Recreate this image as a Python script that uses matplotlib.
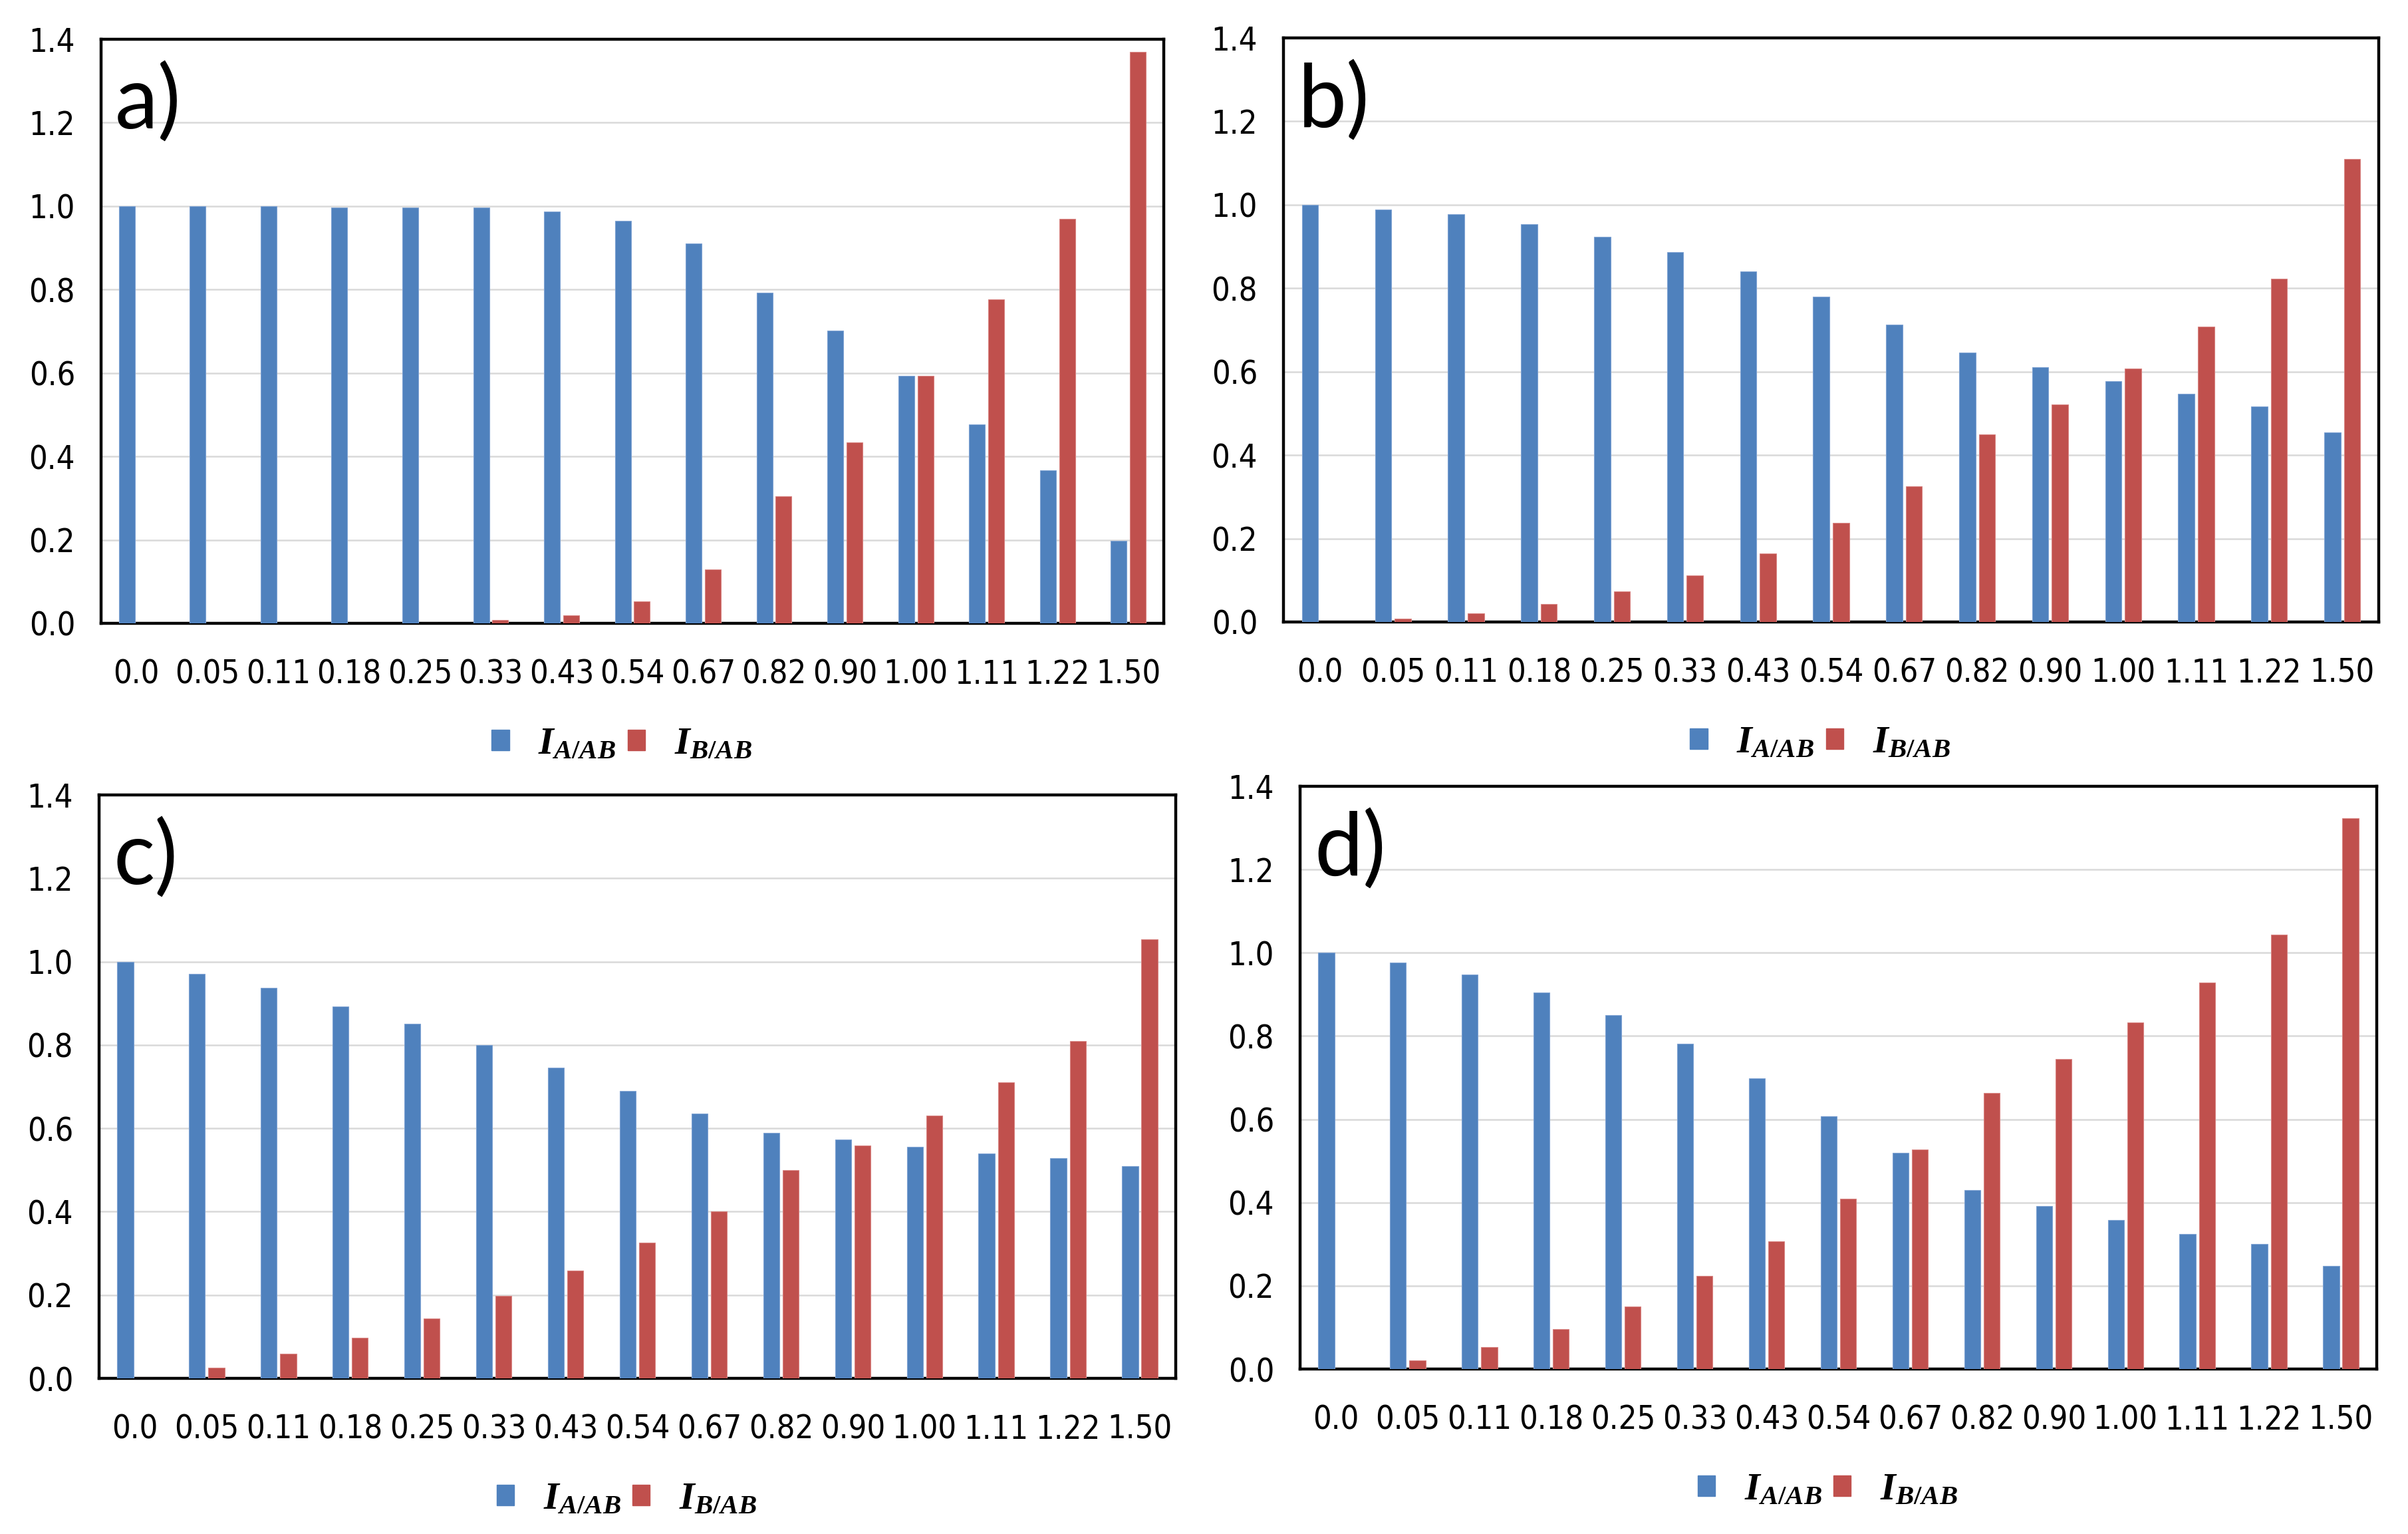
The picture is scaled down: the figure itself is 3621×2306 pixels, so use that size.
import numpy as np
import matplotlib
matplotlib.use("Agg")
import matplotlib.pyplot as plt
from matplotlib.patches import Patch
from matplotlib.ticker import FormatStrFormatter, MultipleLocator

# ------------------------------------------------------------
# Datos
# ------------------------------------------------------------
etiquetas = ["0.0", "0.05", "0.11", "0.18", "0.25", "0.33", "0.43", "0.54",
             "0.67", "0.82", "0.90", "1.00", "1.11", "1.22", "1.50"]

a_IA = [1.00, 1.00, 1.00, 0.997, 0.997, 0.997, 0.987, 0.965, 0.911, 0.793,
        0.701, 0.593, 0.477, 0.367, 0.197]
a_IB = [0.0, 0.0, 0.0, 0.0, 0.0, 0.008, 0.019, 0.053, 0.129, 0.304,
        0.434, 0.593, 0.776, 0.970, 1.369]

b_IA = [1.00, 0.988, 0.977, 0.954, 0.924, 0.886, 0.840, 0.780, 0.712, 0.645,
        0.611, 0.577, 0.547, 0.517, 0.454]
b_IB = [0.0, 0.008, 0.021, 0.043, 0.073, 0.111, 0.165, 0.238, 0.326, 0.450,
        0.521, 0.607, 0.708, 0.822, 1.110]

c_IA = [1.00, 0.970, 0.937, 0.893, 0.851, 0.800, 0.745, 0.690, 0.635, 0.589,
        0.573, 0.555, 0.539, 0.529, 0.509]
c_IB = [0.0, 0.026, 0.059, 0.097, 0.144, 0.198, 0.258, 0.326, 0.401, 0.499,
        0.559, 0.630, 0.711, 0.809, 1.053]

d_IA = [1.00, 0.976, 0.948, 0.904, 0.850, 0.781, 0.698, 0.608, 0.520, 0.430,
        0.392, 0.358, 0.325, 0.300, 0.248]
d_IB = [0.0, 0.020, 0.053, 0.096, 0.150, 0.223, 0.307, 0.409, 0.527, 0.664,
        0.744, 0.832, 0.929, 1.044, 1.324]

paneles = [("a)", a_IA, a_IB), ("b)", b_IA, b_IB),
           ("c)", c_IA, c_IB), ("d)", d_IA, d_IB)]

# ------------------------------------------------------------
# Estilo
# ------------------------------------------------------------
plt.rcParams['mathtext.fontset'] = 'custom'
plt.rcParams['mathtext.it'] = 'Liberation Serif:bold:italic'
plt.rcParams['mathtext.rm'] = 'Liberation Serif:bold'

azul = '#4F81BD'
rojo = '#C0504D'

W, H = 3621, 2306
fig = plt.figure(figsize=(W / 100, H / 100), dpi=100)

# posiciones de los ejes en píxeles: izquierda, derecha, arriba, abajo
cajas = [(152, 1750, 59, 937), (1930, 3577, 57, 935),
         (149, 1768, 1195, 2072), (1955, 3574, 1182, 2058)]

x = np.arange(len(etiquetas))
ancho = 0.225
desp = 0.135

for (letra, IA, IB), (x0, x1, y0, y1) in zip(paneles, cajas):
    ax = fig.add_axes([x0 / W, 1 - y1 / H, (x1 - x0) / W, (y1 - y0) / H])
    ax.bar(x - desp, IA, ancho, color=azul, edgecolor='#7FA3D3', linewidth=0.8,
           zorder=3)
    ax.bar(x + desp, IB, ancho, color=rojo, edgecolor='#D98583', linewidth=0.8,
           zorder=3)

    ax.set_xlim(-0.5, len(etiquetas) - 0.5)
    ax.set_ylim(0, 1.4)
    ax.yaxis.set_major_locator(MultipleLocator(0.2))
    ax.yaxis.set_major_formatter(FormatStrFormatter('%.1f'))
    ax.grid(axis='y', color='#D9D9D9', linewidth=1.8, zorder=0)
    ax.set_axisbelow(True)

    ax.set_xticks(x)
    ax.set_xticklabels(etiquetas)
    ax.tick_params(axis='both', length=0, labelsize=35)
    ax.tick_params(axis='x', pad=38)
    ax.tick_params(axis='y', pad=28)
    for t in ax.get_xticklabels() + ax.get_yticklabels():
        t.set_family('DejaVu Sans')
        t.set_stretch('condensed')

    for s in ax.spines.values():
        s.set_linewidth(3.2)
        s.set_color('black')

    ax.text(0.013, 0.96, letra, transform=ax.transAxes, va='top', ha='left',
            fontsize=94, family=['Lato', 'DejaVu Sans'])

    handles = [Patch(color=azul), Patch(color=rojo)]
    ax.legend(handles, [r'$I_{A/AB}$', r'$I_{B/AB}$'], loc='center',
              bbox_to_anchor=(0.49, -0.205), ncol=2, frameon=False,
              fontsize=42, handlelength=0.45, handleheight=0.45,
              handletextpad=0.75, columnspacing=0.3)

fig.savefig('out.png', dpi=100)
